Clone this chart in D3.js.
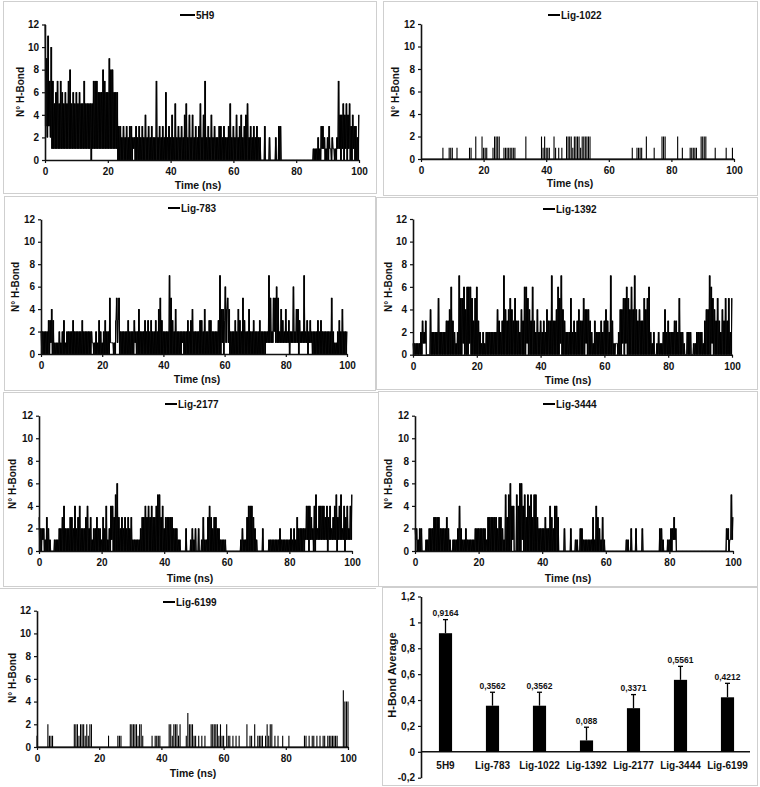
<!DOCTYPE html>
<html><head><meta charset="utf-8">
<script src="https://cdn.jsdelivr.net/npm/d3@7"></script>
<style>
body{margin:0;background:#fff;}
svg{display:block;font-family:"Liberation Sans",Arial,sans-serif;font-weight:bold;}
</style></head><body>
<svg id="c" width="760" height="787"></svg>
<script>
// ---------- DATA ----------
// Each series spans 0..100 ns; samples are evenly spaced over that range.
const timeTicks = [0, 20, 40, 60, 80, 100];
const hbondTicks = [0, 2, 4, 6, 8, 10, 12];

// 0.25 ns sampling
const h5H9 = [
 12,3,9,2,11,3,7,2,10,1, 7,1,5,1,6,1,7,1,5,1, 7,1,6,1,5,1,6,1,5,1, 7,1,8,1,5,1,6,1,5,1,
 6,1,5,1,6,1,5,1,5,1, 7,1,5,1,5,1,5,1,5,0, 5,1,7,1,7,1,7,1,6,1, 6,1,6,1,8,1,7,1,6,1,
 6,1,9,1,8,1,8,1,6,1, 6,1,6,0,3,0,3,0,2,0, 3,0,2,0,3,0,2,0,3,0, 3,0,2,1,2,0,3,0,2,0,
 3,0,2,0,3,0,2,0,4,0, 2,0,3,0,2,0,3,0,2,0, 2,0,7,0,2,0,3,0,2,0, 3,0,2,0,6,0,2,0,3,0,
 2,0,4,0,2,0,5,0,2,0, 3,0,2,0,3,0,2,0,4,0, 5,0,2,0,4,0,2,0,4,0, 2,0,3,0,2,0,3,0,5,0,
 2,0,4,0,7,0,2,0,3,0, 2,0,4,0,2,0,3,0,2,0, 2,0,3,0,3,0,2,0,3,0, 2,0,2,0,3,0,5,0,2,0,
 3,0,2,0,4,0,2,0,3,0, 4,0,2,0,3,0,4,0,5,0, 2,0,3,0,2,0,3,0,2,0, 3,0,2,0,2,0,0,0,0,0,
 3,0,0,0,0,0,2,0,0,0, 0,0,0,0,2,0,0,0,3,0, 3,0,0,0,0,0,0,0,0,0, 0,0,0,0,0,0,0,0,0,0,
 0,0,0,0,0,0,0,0,0,0, 0,0,0,0,0,0,0,0,0,0, 0,0,1,0,1,0,1,0,2,0, 1,0,3,1,3,1,2,0,1,0,
 2,0,3,1,1,0,2,1,1,0, 1,0,2,1,7,1,4,0,4,1, 5,0,4,1,5,0,4,1,5,0, 3,0,4,1,3,0,3,0,2,0, 4
];
// 0.5 ns sampling
const hLig1022 = [
 0,0,0,0,0,0,0,0,0,0, 0,0,0,0,1,0,0,0,1,1,
 1,0,0,1,0,0,0,0,0,0, 0,1,1,0,0,2,0,0,0,2,
 1,1,1,0,0,0,1,2,2,2, 2,0,0,1,1,1,1,1,1,1,
 1,0,0,0,0,0,0,2,0,0, 0,0,0,0,0,0,0,2,1,2,
 1,1,1,0,0,2,1,0,1,0, 1,0,0,2,2,2,2,1,2,2,
 2,2,1,2,2,2,2,2,2,0, 0,0,0,0,0,0,0,0,0,0,
 0,0,0,0,0,0,0,0,0,0, 0,0,0,0,0,1,0,0,1,1,
 1,1,0,0,2,0,0,0,0,1, 0,0,0,0,2,2,2,0,0,0,
 0,0,0,0,2,0,0,1,0,0, 0,0,1,1,1,1,1,0,0,2,
 2,2,2,0,0,0,0,0,1,0, 0,0,0,0,0,1,0,0,0,1,0
];
// 0.25 ns sampling
const hLig783 = [
 2,0,2,0,2,0,2,0,2,0, 3,0,3,1,4,0,3,0,1,0, 1,0,1,0,2,0,1,0,2,0, 3,0,1,0,2,0,2,0,2,0,
 2,0,3,0,2,0,2,0,2,0, 2,0,2,0,3,0,2,0,2,0, 2,0,2,0,2,0,2,1,1,0, 1,0,2,0,1,0,3,0,2,0,
 1,0,2,0,3,0,2,0,2,0, 5,1,1,1,1,0,1,0,3,5, 1,3,5,0,2,0,2,0,2,0, 2,0,2,0,3,0,2,0,2,0,
 2,0,3,1,2,0,2,0,4,0, 2,0,2,0,2,0,3,0,2,0, 3,0,2,0,3,0,2,0,2,0, 3,0,2,0,4,0,5,0,3,0,
 2,0,2,0,2,0,2,0,7,0, 5,0,3,0,2,0,4,0,2,0, 2,0,2,0,2,1,2,0,2,0, 2,0,3,0,2,0,3,0,4,0,
 2,0,2,0,2,0,2,0,3,0, 3,0,2,0,4,0,2,0,2,0, 3,0,3,0,2,0,2,0,2,0, 2,0,3,0,7,0,4,1,4,0,
 3,6,1,4,5,1,4,0,2,0, 2,0,2,0,3,0,2,0,4,0, 3,0,2,0,5,0,3,0,2,0, 2,0,4,0,2,0,2,0,3,0,
 2,0,2,0,2,0,3,0,2,0, 2,0,2,0,2,1,2,1,7,1, 5,1,2,1,5,2,5,1,6,1, 5,1,2,1,4,1,3,1,2,1,
 4,1,2,1,3,0,2,1,2,1, 6,1,2,1,4,1,4,0,3,1, 2,1,2,1,7,1,2,1,3,0, 2,1,3,1,2,0,2,0,2,0,
 2,0,3,0,2,0,3,0,2,0, 2,0,2,0,2,0,2,0,2,0, 5,0,2,0,1,0,1,0,2,0, 3,0,2,0,4,0,2,0,2,0, 2
];
const hLig1392 = [
 1,0,1,0,1,0,1,0,1,0, 2,0,3,1,2,1,3,0,0,0, 0,0,4,0,2,0,2,0,2,0, 2,0,5,0,2,0,2,0,2,0,
 2,0,3,0,3,0,4,0,6,0, 3,0,2,0,1,0,2,0,7,0, 5,0,5,1,6,0,4,0,6,0, 6,1,6,0,5,0,3,0,5,0,
 6,0,3,0,2,0,1,0,2,0, 1,0,2,0,2,0,2,0,2,0, 2,0,2,0,2,0,4,0,3,0, 2,0,3,0,7,0,4,0,3,0,
 4,0,5,0,4,0,3,0,5,0, 3,0,3,0,2,0,4,0,3,0, 6,0,6,1,5,0,4,0,3,0, 6,0,3,0,2,0,4,0,2,0,
 3,0,2,0,3,0,2,0,4,0, 3,0,3,0,7,0,3,0,3,0, 4,0,6,0,5,1,7,0,4,0, 3,0,2,0,2,0,2,0,5,0,
 2,0,3,0,2,0,3,0,4,0, 3,0,3,0,5,0,4,1,4,0, 4,0,3,0,2,0,1,0,3,0, 2,0,2,0,2,0,3,0,2,0,
 3,0,4,0,3,0,2,0,7,0, 3,0,1,0,1,1,1,0,2,0, 4,0,4,1,5,0,5,1,6,0, 5,0,4,0,6,0,4,0,7,0,
 4,0,3,0,4,0,3,0,3,0, 5,0,4,0,5,0,6,0,2,0, 1,0,2,0,0,0,1,0,2,0, 1,0,1,0,2,0,4,0,2,0,
 3,0,2,0,2,0,2,0,3,0, 3,0,2,0,5,0,2,0,2,0, 1,0,0,0,2,0,2,0,2,0, 0,0,1,0,1,0,2,0,2,0,
 2,0,2,0,1,0,3,0,4,0, 4,0,7,0,6,1,5,0,4,0, 3,0,5,0,3,0,2,0,4,0, 3,0,5,0,3,0,5,0,2,0, 5
];
const hLig2177 = [
 3,0,2,0,2,1,2,0,1,0, 3,0,2,0,1,0,0,0,0,0, 1,0,1,0,1,0,2,0,2,0, 3,0,4,0,2,0,2,0,2,0,
 3,0,3,0,2,0,4,0,2,0, 3,0,4,0,2,0,2,0,2,0, 3,0,4,0,2,0,3,0,1,0, 2,0,2,0,3,0,2,0,2,0,
 1,0,3,0,2,0,4,0,1,0, 2,0,4,1,4,0,3,0,5,0, 6,0,3,0,2,0,3,0,2,0, 3,0,2,0,3,0,2,0,3,0,
 1,0,1,0,1,0,1,0,1,0, 2,0,3,0,3,0,4,0,3,0, 4,0,3,0,4,0,3,0,3,0, 4,0,5,0,5,0,3,0,4,0,
 2,0,3,0,3,0,3,0,3,0, 3,0,2,0,2,0,2,0,1,0, 1,0,0,0,0,0,0,0,2,0, 0,0,0,0,1,0,2,0,1,0,
 2,0,0,0,2,0,0,0,1,0, 3,0,1,0,1,0,3,0,4,0, 3,0,2,0,3,0,3,0,2,0, 2,0,1,0,1,0,1,0,1,0,
 0,0,0,0,0,0,0,0,0,0, 0,0,0,0,0,0,0,0,1,0, 2,0,1,0,1,0,3,0,4,0, 4,0,4,0,3,0,2,0,1,0,
 0,0,0,0,0,0,2,0,0,0, 0,0,0,0,1,0,1,0,1,0, 1,0,1,0,1,0,1,0,2,0, 1,0,1,0,1,0,1,0,1,0,
 1,0,2,0,1,0,2,0,1,0, 3,0,2,0,2,0,2,0,2,0, 2,1,4,1,4,0,4,1,3,1, 2,0,4,0,5,1,2,1,4,1,
 4,1,4,1,4,1,3,1,4,0, 3,1,4,1,2,1,3,1,4,1, 5,0,3,1,4,1,5,1,2,1, 4,0,3,1,4,1,2,1,4,1, 5
];
const hLig3444 = [
 2,1,2,0,1,0,2,0,2,0, 0,0,0,0,1,0,1,0,2,0, 2,0,2,0,3,0,3,0,3,0, 3,0,2,0,2,0,2,0,2,0,
 3,0,2,0,1,0,0,0,1,0, 1,0,1,0,2,0,4,0,2,0, 1,0,1,0,2,0,1,0,1,0, 1,0,1,0,1,0,2,0,2,0,
 2,0,2,0,2,0,2,0,2,0, 1,0,3,0,3,0,3,0,3,0, 3,0,3,0,2,0,3,0,3,0, 2,0,1,0,5,0,3,0,5,0,
 6,0,4,1,4,0,0,0,5,0, 4,0,6,0,6,1,4,0,5,0, 3,0,5,0,4,0,5,0,3,0, 5,0,5,0,3,0,2,0,2,0,
 2,0,2,0,3,0,2,0,2,0, 4,0,3,0,2,0,4,0,4,0, 3,0,0,0,0,0,0,0,2,0, 0,0,0,0,0,0,2,0,0,0,
 0,0,1,0,1,0,0,0,2,0, 2,0,1,0,1,0,1,0,1,0, 1,0,1,0,3,0,1,0,4,0, 3,0,2,0,1,0,3,0,1,0,
 0,0,0,0,0,0,0,0,0,0, 0,0,0,0,0,0,0,0,0,0, 0,0,0,0,0,0,1,0,1,0, 0,0,2,0,0,0,0,0,2,0,
 0,0,0,0,0,0,2,0,0,0, 0,0,0,0,0,0,0,0,0,0, 0,0,0,0,0,0,0,0,2,0, 2,0,1,0,0,0,0,0,1,0,
 1,0,2,0,2,1,3,1,2,0, 0,0,0,0,0,0,0,0,0,0, 0,0,0,0,0,0,0,0,0,0, 0,0,0,0,0,0,0,0,0,0,
 0,0,0,0,0,0,0,0,0,0, 0,0,0,0,0,0,0,0,0,0, 0,0,0,0,0,0,0,0,0,0, 0,0,2,1,2,0,1,1,5,1, 3
];
// 0.5 ns sampling
const hLig6199 = [
 1,0,0,0,0,0,0,2,1,1, 1,0,0,0,0,0,0,0,0,0,
 0,0,0,0,2,2,2,1,2,2, 2,1,2,1,2,2,0,0,0,0,
 0,0,0,0,0,0,1,0,0,0, 0,0,1,1,1,0,0,0,0,0,
 2,2,2,2,2,1,2,2,1,0, 0,0,0,0,1,0,1,1,1,1,
 0,0,0,0,0,2,2,1,2,2, 2,1,2,0,0,0,1,3,2,2,
 2,1,1,0,1,0,1,0,1,0, 0,0,2,2,2,2,2,1,2,1,
 1,0,2,1,1,0,1,0,1,0, 1,0,0,0,0,2,0,1,1,0,
 2,0,1,1,1,1,0,1,2,1, 2,2,0,1,0,1,0,0,1,0,
 0,0,1,0,0,0,0,0,0,0, 0,0,1,1,0,1,0,1,1,0,
 1,0,1,0,1,1,0,1,1,1, 1,1,1,1,0,0,0,5,4,4,4
];

const barCategories = ["5H9", "Lig-783", "Lig-1022", "Lig-1392", "Lig-2177", "Lig-3444", "Lig-6199"];
const barMeans = [0.9164, 0.3562, 0.3562, 0.088, 0.3371, 0.5561, 0.4212];
const barErrors = [0.105, 0.104, 0.104, 0.102, 0.105, 0.104, 0.108];
const barTicks = [-0.2, 0, 0.2, 0.4, 0.6, 0.8, 1, 1.2];

// ---------- LAYOUT ----------
const panels = [
  {name:"5H9",      data:h5H9,      frame:[3,1,376,193],     plot:[45,359,24.5,160],    leg:[180,195,15],  yt:[20,92],   xt:[198,189]},
  {name:"Lig-1022", data:hLig1022,  frame:[383,1,757,195],   plot:[421,734,24,159],     leg:[548,560,15],  yt:[395,92],  xt:[570,187]},
  {name:"Lig-783",  data:hLig783,   frame:[4,196,375,390],   plot:[41,347,219.3,354],   leg:[168,180,208], yt:[15,287],  xt:[197,383]},
  {name:"Lig-1392", data:hLig1392,  frame:[376,197,757,389], plot:[413,732,219,354.7],  leg:[543,555,209], yt:[388,287], xt:[568,384]},
  {name:"Lig-2177", data:hLig2177,  frame:[3,392,378,586],   plot:[39,352,415.7,551],   leg:[165,177,404], yt:[12,484],  xt:[190,582]},
  {name:"Lig-3444", data:hLig3444,  frame:[378,391,757,586], plot:[415,733,415.7,551],  leg:[543,555,404], yt:[388,484], xt:[568,582]},
  {name:"Lig-6199", data:hLig6199,  frame:null,              plot:[37,348,610.7,747],   leg:[163,175,602], yt:[12,678],  xt:[193,777]}
];

const svg = d3.select("#c");
const ink = "#111";

function styleAxis(g, fs){
  g.select(".domain").attr("stroke", ink).attr("stroke-width", 1.6);
  g.selectAll(".tick line").attr("stroke", ink).attr("stroke-width", 1.2);
  g.selectAll(".tick text").attr("fill", ink).style("font-size", fs + "px").style("font-weight", "bold")
   .style("font-family", '"Liberation Sans",Arial,sans-serif');
}

panels.forEach(p => {
  const g = svg.append("g");
  if (p.frame) {
    g.append("rect").attr("x", p.frame[0] + 0.5).attr("y", p.frame[1] + 0.5)
      .attr("width", p.frame[2] - p.frame[0]).attr("height", p.frame[3] - p.frame[1])
      .attr("fill", "none").attr("stroke", "#cfcfcf").attr("stroke-width", 1);
  } else {
    g.append("line").attr("x1", 0).attr("x2", 376).attr("y1", 588.5).attr("y2", 588.5)
      .attr("stroke", "#cfcfcf");
  }
  const x = d3.scaleLinear().domain([0, 100]).range([p.plot[0], p.plot[1]]);
  const y = d3.scaleLinear().domain([0, 12]).range([p.plot[3], p.plot[2]]);
  const step = 100 / (p.data.length - 1);
  const pts = p.data.map((v, i) => [i * step, v]);
  const dense = p.data.length > 300;

  if (dense) {
    // vertical extent swept by the trace between consecutive frames
    const segs = d3.pairs(pts);
    g.append("g").selectAll("rect").data(segs).join("rect")
      .attr("x", d => x(d[0][0]) - 0.1)
      .attr("width", d => x(d[1][0]) - x(d[0][0]) + 0.2)
      .attr("y", d => y(Math.max(d[0][1], d[1][1])))
      .attr("height", d => y(Math.min(d[0][1], d[1][1])) - y(Math.max(d[0][1], d[1][1])))
      .attr("fill", "#000");
    const line = d3.line().x(d => x(d[0])).y(d => y(d[1]));
    g.append("path").datum(pts).attr("d", line)
      .attr("fill", "none").attr("stroke", "#000").attr("stroke-width", 0.9);
  } else {
    // sparse bursts: each sampled count drawn as a needle from zero
    g.append("line").attr("x1", x(0)).attr("x2", x(100)).attr("y1", y(0)).attr("y2", y(0))
      .attr("stroke", "#000").attr("stroke-width", 1);
    g.append("g").selectAll("line").data(pts.filter(d => d[1] > 0)).join("line")
      .attr("x1", d => x(d[0])).attr("x2", d => x(d[0]))
      .attr("y1", y(0)).attr("y2", d => y(d[1]))
      .attr("stroke", "#000").attr("stroke-width", 1.1);
  }

  const ya = g.append("g").attr("transform", `translate(${p.plot[0]},0)`)
    .call(d3.axisLeft(y).tickValues(hbondTicks).tickSize(3).tickSizeOuter(0).tickPadding(3));
  styleAxis(ya, 10);
  const xa = g.append("g").attr("transform", `translate(0,${p.plot[3]})`)
    .call(d3.axisBottom(x).tickValues(timeTicks).tickSize(3).tickSizeOuter(0).tickPadding(5));
  styleAxis(xa, 10);

  g.append("text").attr("transform", `translate(${p.yt[0]},${p.yt[1]}) rotate(-90)`)
    .attr("text-anchor", "middle").attr("dy", "0.35em").attr("fill", ink)
    .style("font-size", "10px").text("N° H-Bond");
  g.append("text").attr("x", p.xt[0]).attr("y", p.xt[1]).attr("text-anchor", "middle")
    .attr("fill", ink).style("font-size", "10.5px").text("Time (ns)");

  g.append("line").attr("x1", p.leg[0]).attr("x2", p.leg[1]).attr("y1", p.leg[2]).attr("y2", p.leg[2])
    .attr("stroke", "#000").attr("stroke-width", 2);
  g.append("text").attr("x", p.leg[1] + 1).attr("y", p.leg[2]).attr("dy", "0.35em")
    .attr("fill", ink).style("font-size", "10px").text(p.name);
});

// ---------- BAR CHART ----------
(function(){
  const g = svg.append("g");
  g.append("rect").attr("x", 382.5).attr("y", 587.5).attr("width", 375).attr("height", 198)
    .attr("fill", "none").attr("stroke", "#cfcfcf");
  const y = d3.scaleLinear().domain([-0.2, 1.2]).range([777.7, 596.5]);
  const x = d3.scaleBand().domain(barCategories).range([422, 751]).paddingInner(0.72).paddingOuter(0.36);
  const fmt = d => String(d).replace(".", ",");

  const ya = g.append("g").attr("transform", "translate(421,0)")
    .call(d3.axisLeft(y).tickValues(barTicks).tickFormat(fmt).tickSize(3).tickSizeOuter(0).tickPadding(3));
  styleAxis(ya, 10);

  const xa = g.append("g").attr("transform", `translate(0,${y(0)})`)
    .call(d3.axisBottom(x).tickSize(0).tickSizeOuter(0).tickPadding(10));
  styleAxis(xa, 10);
  xa.select(".domain").attr("d", `M421,0H750`);

  const bars = barCategories.map((c, i) => ({c, m: barMeans[i], e: barErrors[i]}));
  g.selectAll(".bar").data(bars).join("rect")
    .attr("x", d => x(d.c)).attr("width", x.bandwidth())
    .attr("y", d => y(d.m)).attr("height", d => y(0) - y(d.m)).attr("fill", "#000");
  g.selectAll(".err").data(bars).join("line")
    .attr("x1", d => x(d.c) + x.bandwidth() / 2).attr("x2", d => x(d.c) + x.bandwidth() / 2)
    .attr("y1", d => y(d.m)).attr("y2", d => y(d.m + d.e)).attr("stroke", "#000").attr("stroke-width", 1.3);
  g.selectAll(".cap").data(bars).join("line")
    .attr("x1", d => x(d.c) + x.bandwidth() / 2 - 2.5).attr("x2", d => x(d.c) + x.bandwidth() / 2 + 2.5)
    .attr("y1", d => y(d.m + d.e)).attr("y2", d => y(d.m + d.e)).attr("stroke", "#000").attr("stroke-width", 1.3);
  g.selectAll(".val").data(bars).join("text")
    .attr("x", d => x(d.c) + x.bandwidth() / 2).attr("y", d => y(d.m + d.e) - 3.5)
    .attr("text-anchor", "middle").attr("fill", ink).style("font-size", "8.5px").text(d => fmt(d.m));

  g.append("text").attr("transform", "translate(392,675) rotate(-90)")
    .attr("text-anchor", "middle").attr("dy", "0.35em").attr("fill", ink)
    .style("font-size", "11px").text("H-Bond Average");
})();
</script>
</body></html>
